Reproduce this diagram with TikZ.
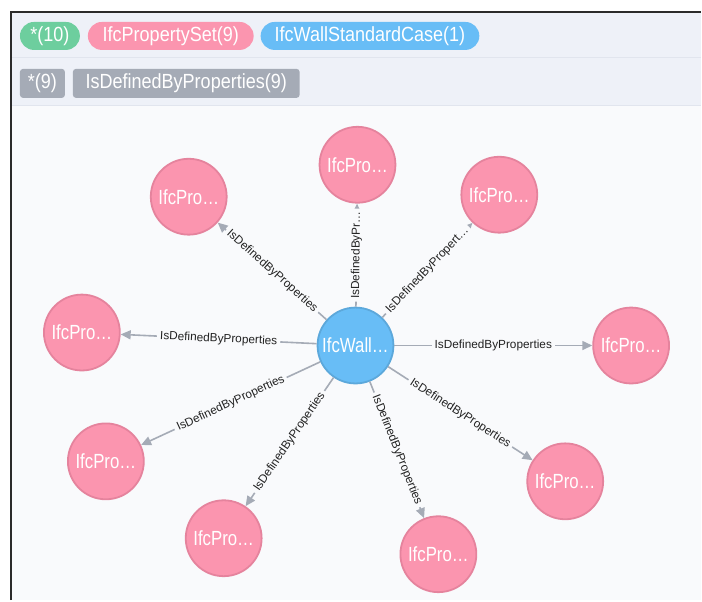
\documentclass[tikz,border=0pt]{standalone}
\usepackage{fontspec}
\setmainfont{Liberation Sans}
\newfontfamily\pillfont[FakeStretch=0.88]{Liberation Sans}
\newfontfamily\circfont[FakeStretch=0.82]{Liberation Sans}
\usetikzlibrary{arrows.meta}

\definecolor{pagebg}{HTML}{F9FAFC}
\definecolor{headbg}{HTML}{EEF1F8}
\definecolor{headrule}{HTML}{E1E5EE}
\definecolor{framecol}{HTML}{2B2B2B}
\definecolor{propfill}{HTML}{FB95AF}
\definecolor{propdraw}{HTML}{E5839D}
\definecolor{wallfill}{HTML}{68BDF6}
\definecolor{walldraw}{HTML}{5CA8DB}
\definecolor{anyfill}{HTML}{6DCE9E}
\definecolor{relfill}{HTML}{A5ABB6}
\definecolor{relline}{HTML}{A5ABB6}
\definecolor{lbltext}{HTML}{222222}

\tikzset{
  pill/.style={rounded corners=14pt, minimum height=28pt, inner sep=0pt,
    text=white, font=\pillfont\fontsize{20.5}{20.5}\selectfont},
  relpill/.style={fill=relfill, rounded corners=3pt, minimum height=29pt,
    inner sep=0pt, text=white, font=\pillfont\fontsize{20.5}{20.5}\selectfont},
  gnode/.style={circle, minimum size=76pt, inner sep=0pt, line width=1.8pt,
    text=white, font=\circfont\fontsize{20.5}{20.5}\selectfont},
  prop/.style={gnode, fill=propfill, draw=propdraw},
  wall/.style={gnode, fill=wallfill, draw=walldraw},
  rel/.style={draw=relline, line width=1.6pt,
    -{Triangle[length=10pt,width=9pt]}},
  lbl/.style={midway, sloped, fill=pagebg, text=lbltext, inner xsep=3pt,
    inner ysep=1pt, font=\fontsize{11.8}{11.8}\selectfont}
}

\begin{document}
\begin{tikzpicture}[x=1pt,y=-1pt]
  % canvas and header band
  \fill[white] (0,0) rectangle (702,601);
  \fill[pagebg] (11,12) rectangle (702,601);
  \fill[headbg] (11,12) rectangle (702,106);
  \draw[headrule, line width=1pt] (11,58) -- (702,58);
  \draw[headrule, line width=1pt] (11,106) -- (702,106);
  \draw[framecol, line width=2pt] (11,601) -- (11,12) -- (702,12);
  \useasboundingbox (0,0) rectangle (702,601);

  % label legend
  \node[pill, fill=anyfill, minimum width=60pt] (legAny) at (50,36) {*(10)};
  \node[pill, fill=propfill, minimum width=166pt] (legProp) at (171,36) {IfcPropertySet(9)};
  \node[pill, fill=wallfill, minimum width=219pt] (legWall) at (370.5,36) {IfcWallStandardCase(1)};

  % relationship legend
  \node[relpill, minimum width=45pt] (legRelAny) at (42.5,83.5) {*(9)};
  \node[relpill, minimum width=227pt] (legRel) at (186.5,83.5) {IsDefinedByProperties(9)};

  % graph nodes
  \node[wall] (w) at (356,346) {IfcWall…};
  \node[prop] (pN)  at (358,165) {IfcPro…};
  \node[prop] (pNW) at (189,197) {IfcPro…};
  \node[prop] (pNE) at (500,195) {IfcPro…};
  \node[prop] (pW)  at (82,333)  {IfcPro…};
  \node[prop] (pE)  at (632,346) {IfcPro…};
  \node[prop] (pSW) at (106,462) {IfcPro…};
  \node[prop] (pSSW) at (224,539) {IfcPro…};
  \node[prop] (pS)  at (439,555) {IfcPro…};
  \node[prop] (pSE) at (566,482) {IfcPro…};

  % relationships
  \draw[rel] (w) -- node[lbl] {IsDefinedByPr…} (pN);
  \draw[rel] (w) -- node[lbl] {IsDefinedByProperties} (pNW);
  \draw[rel] (w) -- node[lbl] {IsDefinedByPropert…} (pNE);
  \draw[rel] (w) -- node[lbl] {IsDefinedByProperties} (pW);
  \draw[rel] (w) -- node[lbl] {IsDefinedByProperties} (pE);
  \draw[rel] (w) -- node[lbl] {IsDefinedByProperties} (pSW);
  \draw[rel] (w) -- node[lbl] {IsDefinedByProperties} (pSSW);
  \draw[rel] (w) -- node[lbl] {IsDefinedByProperties} (pS);
  \draw[rel] (w) -- node[lbl] {IsDefinedByProperties} (pSE);
\end{tikzpicture}
\end{document}
